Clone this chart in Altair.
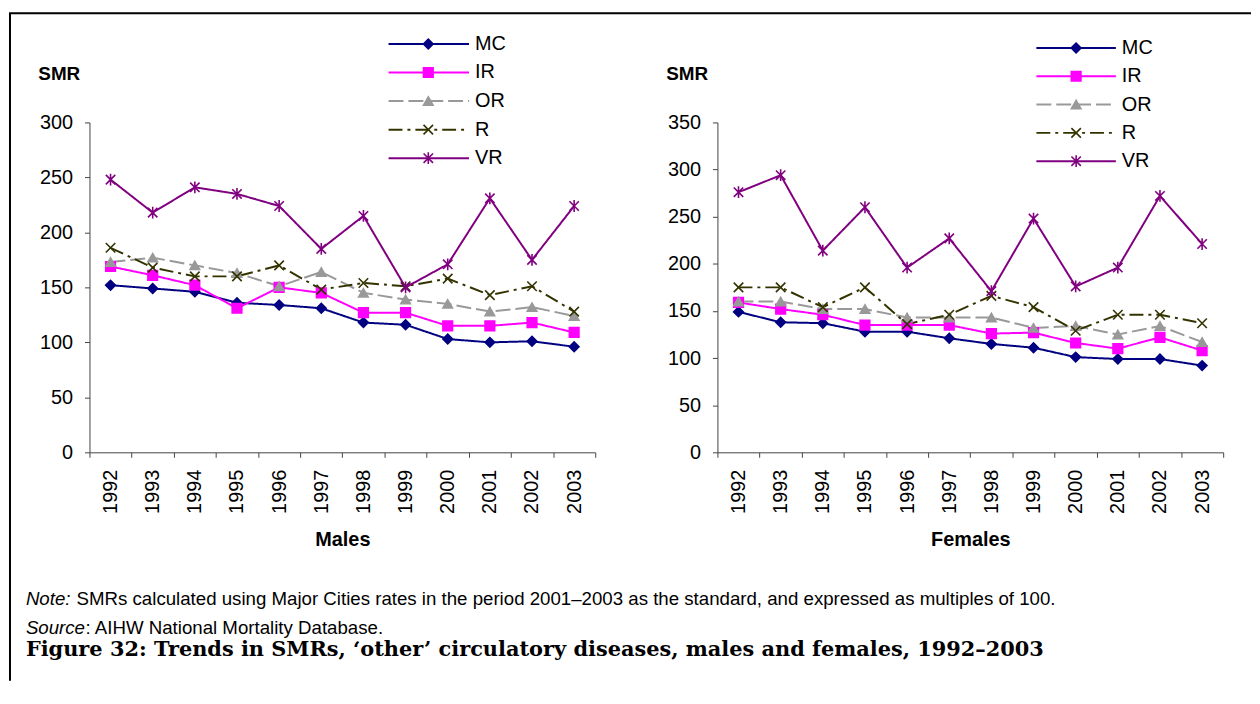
import altair as alt
import pandas as pd

years = [str(y) for y in range(1992, 2004)]
series = ["MC", "IR", "OR", "R", "VR"]

males_MC = [152, 149, 146, 136, 134, 131, 118, 116, 103, 100, 101, 96]
males_IR = [169, 161, 152, 131, 150, 145, 127, 127, 115, 115, 118, 109]
males_OR = [173, 177, 170, 163, 151, 164, 145, 139, 135, 128, 132, 124]
males_R = [186, 168, 160, 160, 170, 148, 154, 151, 158, 143, 151, 128]
males_VR = [248, 218, 241, 235, 224, 185, 215, 150, 171, 231, 175, 224]

females_MC = [149, 138, 137, 128, 128, 121, 115, 111, 101, 99, 99, 92]
females_IR = [159, 152, 146, 135, 135, 135, 126, 127, 116, 110, 122, 108]
females_OR = [160, 160, 152, 152, 143, 143, 143, 132, 134, 125, 134, 117]
females_R = [175, 175, 154, 175, 136, 146, 166, 154, 129, 146, 146, 137]
females_VR = [276, 294, 214, 260, 196, 227, 171, 248, 176, 196, 272, 221]

note_label = "Note:"
note_text = "SMRs calculated using Major Cities rates in the period 2001\u20132003 as the standard, and expressed as multiples of 100."
source_label = "Source"
source_text = ": AIHW National Mortality Database."
caption = "Figure 32: Trends in SMRs, \u2018other\u2019 circulatory diseases, males and females, 1992\u20132003"

colors = ["#000080", "#FF00FF", "#999999", "#333300", "#800080"]
dashes = [[1, 0], [1, 0], [15, 5], [14, 5, 3, 5], [1, 0]]
X_PATH = "M-1,-1L1,1M-1,1L1,-1"
AST_PATH = "M-1,-1L1,1M-1,1L1,-1M0,-1.25L0,1.25"
shapes = ["diamond", "square", "triangle-up", X_PATH, AST_PATH]
sizes = [95, 90, 120, 110, 150]

FONT = "Liberation Sans"
AXC = "#444444"


def long_df(vals):
    rows = []
    for s, arr in zip(series, vals):
        for y, v in zip(years, arr):
            rows.append({"year": y, "series": s, "smr": v})
    return pd.DataFrame(rows)


males_df = long_df([males_MC, males_IR, males_OR, males_R, males_VR])
females_df = long_df([females_MC, females_IR, females_OR, females_R, females_VR])
legend_df = pd.DataFrame({"series": series})
one = pd.DataFrame({"k": [0]})

color_scale = alt.Scale(domain=series, range=colors)
dash_scale = alt.Scale(domain=series, range=dashes)
shape_scale = alt.Scale(domain=series, range=shapes)
size_scale = alt.Scale(domain=series, range=sizes)


def panel(df, ymax, xtitle, lx0, lx1, lxm, lxt, ly0, ly1, extras=()):
    x = alt.X(
        "year:O",
        sort=years,
        scale=alt.Scale(type="band", domain=years, paddingInner=0, paddingOuter=0),
        bandPosition=0.5,
        axis=alt.Axis(
            title=xtitle, labelAngle=270, tickBand="extent", tickSize=5,
            labelPadding=12, labelFontSize=20, labelFont=FONT, labelColor="black",
            titleFontSize=20, titleFont=FONT, titleFontWeight="bold", titleColor="black",
            titleBaseline="alphabetic", titleY=94,
            domainColor=AXC, tickColor=AXC, grid=False,
        ),
    )
    y = alt.Y(
        "smr:Q",
        scale=alt.Scale(domain=[0, ymax], nice=False),
        axis=alt.Axis(
            values=list(range(0, ymax + 1, 50)), title="SMR", titleAngle=0,
            titleAlign="left", titleBaseline="alphabetic", titleX=-52, titleY=-43,
            titleFontSize=19, titleFontWeight="bold", titleFont=FONT, titleColor="black",
            labelFontSize=20, labelFont=FONT, labelColor="black", labelPadding=12,
            tickSize=5, grid=False, domainColor=AXC, tickColor=AXC,
        ),
    )
    color = alt.Color("series:N", scale=color_scale, legend=None)
    sdash = alt.StrokeDash("series:N", scale=dash_scale, legend=None)

    lines = alt.Chart(df).mark_line(strokeWidth=2).encode(
        x=x, y=y, color=color, strokeDash=sdash
    )
    pts = alt.Chart(df).mark_point(filled=True, opacity=1, strokeWidth=1.6).encode(
        x=x, y=y,
        shape=alt.Shape("series:N", scale=shape_scale, legend=None),
        fill=alt.Fill("series:N", scale=color_scale, legend=None),
        stroke=alt.Stroke("series:N", scale=color_scale, legend=None),
        size=alt.Size("series:N", scale=size_scale, legend=None),
    )
    data_layer = alt.layer(lines, pts)

    ly = alt.Y("series:N", scale=alt.Scale(type="point", domain=series, range=[ly0, ly1], padding=0), axis=None)
    leg_rule = alt.Chart(legend_df).mark_rule(strokeWidth=2).encode(
        x=alt.value(lx0), x2=alt.value(lx1), y=ly, color=color, strokeDash=sdash
    )
    leg_pts = alt.Chart(legend_df).mark_point(filled=True, opacity=1, strokeWidth=1.6).encode(
        x=alt.value(lxm), y=ly,
        shape=alt.Shape("series:N", scale=shape_scale, legend=None),
        fill=alt.Fill("series:N", scale=color_scale, legend=None),
        stroke=alt.Stroke("series:N", scale=color_scale, legend=None),
        size=alt.Size("series:N", scale=size_scale, legend=None),
    )
    leg_txt = alt.Chart(legend_df).mark_text(
        align="left", baseline="middle", fontSize=20, font=FONT, color="black"
    ).encode(x=alt.value(lxt), y=ly, text="series:N")
    legend_layer = alt.layer(leg_rule, leg_pts, leg_txt)

    return alt.layer(data_layer, legend_layer, *extras).resolve_scale(y="independent").properties(
        width=509, height=332
    )


NOTE_FS = 18.8
frame_top = alt.Chart(one).mark_rule(color="black", strokeWidth=2).encode(
    x=alt.value(-81), x2=alt.value(1169), y=alt.value(-110)
)
frame_left = alt.Chart(one).mark_rule(color="black", strokeWidth=2).encode(
    x=alt.value(-80), y=alt.value(-110), y2=alt.value(562)
)
note1 = alt.Chart(pd.DataFrame({"t": [note_label]})).mark_text(
    align="left", baseline="alphabetic", fontSize=NOTE_FS, font=FONT, fontStyle="italic", color="black"
).encode(x=alt.value(-64), y=alt.value(486), text="t:N")
note2 = alt.Chart(pd.DataFrame({"t": [note_text]})).mark_text(
    align="left", baseline="alphabetic", fontSize=NOTE_FS, font=FONT, color="black"
).encode(x=alt.value(-13), y=alt.value(486), text="t:N")
src1 = alt.Chart(pd.DataFrame({"t": [source_label]})).mark_text(
    align="left", baseline="alphabetic", fontSize=NOTE_FS, font=FONT, fontStyle="italic", color="black"
).encode(x=alt.value(-64), y=alt.value(515), text="t:N")
src2 = alt.Chart(pd.DataFrame({"t": [source_text]})).mark_text(
    align="left", baseline="alphabetic", fontSize=NOTE_FS, font=FONT, color="black"
).encode(x=alt.value(-4), y=alt.value(515), text="t:N")
cap = alt.Chart(pd.DataFrame({"t": [caption]})).mark_text(
    align="left", baseline="alphabetic", fontSize=21, font="DejaVu Serif", fontWeight="bold", color="black"
).encode(x=alt.value(-64), y=alt.value(537), text="t:N")

left = panel(males_df, 300, "Males", 301, 382, 341, 388, -79, 36,
             extras=(frame_top, frame_left, note1, note2, src1, src2, cap))
right = panel(females_df, 350, "Females", 321, 401, 361, 407, -75, 39)

chart = alt.hconcat(left, right, spacing=123, bounds="flush").properties(
    padding={"left": 0, "top": 2, "right": 0, "bottom": 0},
    background="white",
).configure_view(stroke=None)

chart.save("out.html", embed_options={"renderer": "svg", "actions": False})
